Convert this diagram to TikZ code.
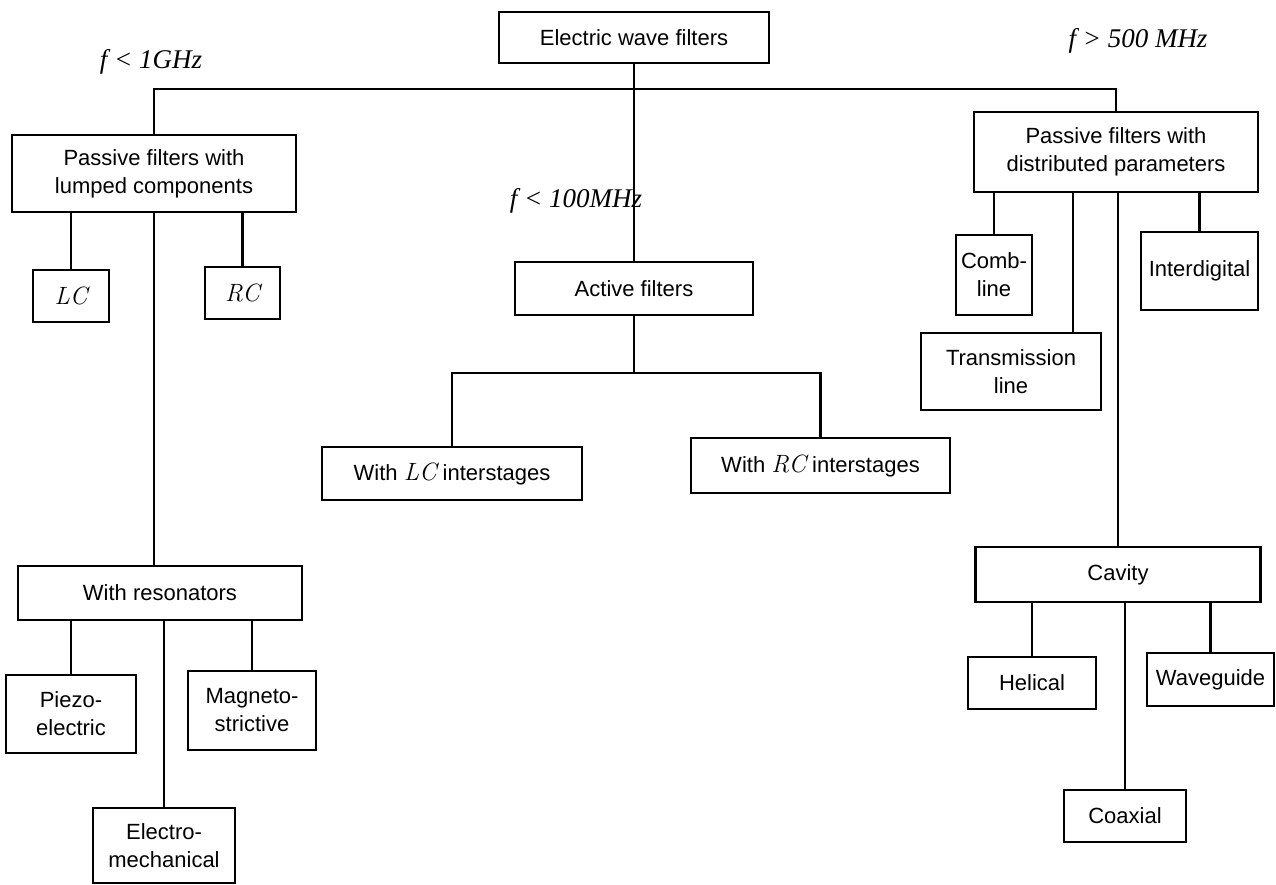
\documentclass[tikz,border=0pt]{standalone}
\usepackage{fontspec}
\setmainfont{Liberation Sans}
\newfontfamily\handfont{Liberation Serif}
\newfontfamily\lmfont{Latin Modern Roman}
\newcommand{\itlab}[1]{{\lmfont\itshape\fontsize{25}{28}\selectfont #1}}
\begin{document}
\begin{tikzpicture}[x=1pt,y=-1pt,
  box/.style={draw, line width=2.2pt, inner sep=0pt, align=center,
    font=\fontsize{22}{28}\selectfont},
  link/.style={line width=2.2pt},
  hand/.style={font=\handfont\itshape\fontsize{27}{30}\selectfont, inner sep=0pt}]
\useasboundingbox (0,0) rectangle (1276,885);
% level 0
\node[box, minimum width=270, minimum height=51] (ewf) at (634,37.5) {Electric wave filters};
% level 1
\node[box, minimum width=284, minimum height=77] (plc) at (154,173.5) {Passive filters with\\lumped components};
\node[box, minimum width=238, minimum height=53] (act) at (634,288.5) {Active filters};
\node[box, minimum width=284, minimum height=80] (pdp) at (1116,152) {Passive filters with\\distributed parameters};
% lumped
\node[box, minimum width=76, minimum height=52] (lc) at (71,296) {\itlab{LC}};
\node[box, minimum width=75, minimum height=52] (rc) at (242.5,293) {\itlab{RC}};
\node[box, minimum width=284, minimum height=54] (res) at (160,593) {With resonators};
\node[box, minimum width=130, minimum height=78] (piezo) at (71,714) {Piezo-\\electric};
\node[box, minimum width=142, minimum height=75] (emech) at (164,845.5) {Electro-\\mechanical};
\node[box, minimum width=128, minimum height=79] (magn) at (252,710.5) {Magneto-\\strictive};
% active
\node[box, minimum width=260, minimum height=53] (lci) at (452,473.5) {With \itlab{LC} interstages};
\node[box, minimum width=259, minimum height=55] (rci) at (820.5,465.5) {With \itlab{RC} interstages};
% distributed
\node[box, minimum width=76, minimum height=80] (comb) at (994,275) {Comb-\\line};
\node[box, minimum width=117, minimum height=78] (inter) at (1199.5,271) {Interdigital};
\node[box, minimum width=180, minimum height=77] (trans) at (1011,371.5) {Transmission\\line};
\node[box, minimum width=285, minimum height=55] (cav) at (1118,574.5) {Cavity};
\node[box, minimum width=128, minimum height=52] (hel) at (1032,683) {Helical};
\node[box, minimum width=122, minimum height=52] (coax) at (1125,816) {Coaxial};
\node[box, minimum width=127, minimum height=53] (wave) at (1210.5,679.5) {Waveguide};
% handwritten notes
\node[hand] (n1) at (151,62) {f < 1GHz};
\node[hand] (n2) at (576,201) {f < 100MHz};
\node[hand] (n3) at (1138,41) {f > 500 MHz};
% connectors
\coordinate (bus) at (0,89);
\coordinate (split) at (0,373);
\draw[link] (ewf.south) -- (act.north);
\draw[link] (plc.north) -- (plc.north |- bus) -- (pdp.north |- bus) -- (pdp.north);
\draw[link] (lc.north |- plc.south) -- (lc.north);
\draw[link] (rc.north |- plc.south) -- (rc.north);
\draw[link] (plc.south) -- (plc.south |- res.north);
\draw[link] (piezo.north |- res.south) -- (piezo.north);
\draw[link] (emech.north |- res.south) -- (emech.north);
\draw[link] (magn.north |- res.south) -- (magn.north);
\draw[link] (act.south) -- (act.south |- split);
\draw[link] (lci.north) -- (lci.north |- split) -- (rci.north |- split) -- (rci.north);
\draw[link] (comb.north |- pdp.south) -- (comb.north);
\draw[link] (inter.north |- pdp.south) -- (inter.north);
\path (trans.north) ++(62,0) coordinate (tc);
\draw[link] (tc |- pdp.south) -- (tc);
\draw[link] (cav.north |- pdp.south) -- (cav.north);
\draw[link] (hel.north |- cav.south) -- (hel.north);
\draw[link] (coax.north |- cav.south) -- (coax.north);
\draw[link] (wave.north |- cav.south) -- (wave.north);
\end{tikzpicture}
\end{document}
